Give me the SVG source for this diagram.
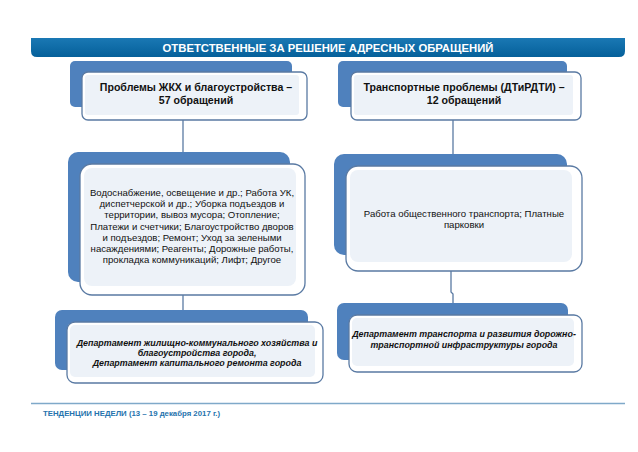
<svg xmlns="http://www.w3.org/2000/svg" width="638" height="452" viewBox="0 0 638 452">
<defs>
<linearGradient id="tg" x1="0" y1="0" x2="0" y2="1">
<stop offset="0" stop-color="#1a78b4"/><stop offset="1" stop-color="#05609a"/>
</linearGradient>
<style>
.back{fill:#4f81bd;}
.front{fill:#ffffff;stroke:#5a7aa3;stroke-width:1.3;}
.inner{fill:#edf2f8;}
.conn{stroke:#5a7aa3;stroke-width:1.3;fill:none;}
.t{font-family:"Liberation Sans",Arial,sans-serif;fill:#111;text-anchor:middle;}
.hd{font-size:10.6px;font-weight:bold;}
.md{font-size:9.6px;}
.bt{font-size:8.9px;font-weight:bold;font-style:italic;}
</style>
</defs>
<rect width="638" height="452" fill="#ffffff"/>
<g id="title">
<path d="M31,38 H625 V51 Q625,57 619,57 H37 Q31,57 31,51 Z" fill="url(#tg)"/>
<text x="328" y="52" class="t" style="font-size:11.3px;font-weight:bold;fill:#fff">ОТВЕТСТВЕННЫЕ ЗА РЕШЕНИЕ АДРЕСНЫХ ОБРАЩЕНИЙ</text>
</g>
<g id="connectors">
<path class="conn" d="M183,120 V164"/>
<path class="conn" d="M183,295 V322"/>
<path class="conn" d="M453,120 V166"/>
<path class="conn" d="M451,271 V292 L453,294 V315"/>
</g>
<g id="n1">
<rect class="back" x="70" y="61" width="222" height="46" rx="5"/>
<rect class="front" x="82" y="72" width="225" height="48" rx="6"/>
<rect class="inner" x="85" y="75" width="214" height="40" rx="3"/>
<text class="t hd" x="196" y="91">Проблемы ЖКХ и благоустройства –</text>
<text class="t hd" x="196" y="104">57 обращений</text>
</g>
<g id="n2">
<rect class="back" x="338" y="61" width="229" height="46" rx="5"/>
<rect class="front" x="351" y="72" width="230" height="48" rx="6"/>
<rect class="inner" x="354" y="75" width="219" height="40" rx="3"/>
<text class="t hd" x="464" y="91">Транспортные проблемы (ДТиРДТИ) –</text>
<text class="t hd" x="464" y="104">12 обращений</text>
</g>
<g id="n3">
<rect class="back" x="68" y="152" width="222" height="130" rx="10"/>
<rect class="front" x="80" y="164" width="225" height="131" rx="12"/>
<rect class="inner" x="84" y="168" width="212" height="118" rx="8"/>
<text class="t md" x="192" y="196">Водоснабжение, освещение и др.;  Работа УК,</text>
<text class="t md" x="192" y="207.2">диспетчерской и др.; Уборка подъездов и</text>
<text class="t md" x="192" y="218.4">территории, вывоз мусора; Отопление;</text>
<text class="t md" x="192" y="229.6">Платежи и счетчики; Благоустройство дворов</text>
<text class="t md" x="192" y="240.8">и подъездов;  Ремонт; Уход за зелеными</text>
<text class="t md" x="192" y="252">насаждениями; Реагенты; Дорожные работы,</text>
<text class="t md" x="192" y="263.2">прокладка коммуникаций; Лифт; Другое</text>
</g>
<g id="n4">
<rect class="back" x="334" y="154" width="233" height="101" rx="10"/>
<rect class="front" x="346" y="166" width="236" height="105" rx="12"/>
<rect class="inner" x="350" y="170" width="222" height="92" rx="8"/>
<text class="t md" x="464" y="217">Работа общественного транспорта; Платные</text>
<text class="t md" x="464" y="228">парковки</text>
</g>
<g id="n5">
<rect class="back" x="55" y="310" width="253" height="60" rx="7"/>
<rect class="front" x="67" y="322" width="256" height="61" rx="8"/>
<rect class="inner" x="70" y="325" width="245" height="52" rx="5"/>
<text class="t bt" x="197" y="346">Департамент  жилищно-коммунального хозяйства  и</text>
<text class="t bt" x="197" y="356">благоустройства города,</text>
<text class="t bt" x="197" y="366">Департамент капитального ремонта города</text>
</g>
<g id="n6">
<rect class="back" x="337" y="303" width="231" height="57" rx="7"/>
<rect class="front" x="349" y="315" width="233" height="57" rx="8"/>
<rect class="inner" x="352" y="318" width="222" height="48" rx="5"/>
<text class="t bt" x="464" y="337">Департамент транспорта и развития дорожно-</text>
<text class="t bt" x="464" y="348">транспортной инфраструктуры города</text>
</g>
<g id="footer">
<line x1="31" y1="403.5" x2="625" y2="403.5" stroke="#7fa9c9" stroke-width="1.6"/>
<text x="43" y="416" style="font-family:'Liberation Sans',Arial,sans-serif;font-size:7.8px;font-weight:bold;fill:#2573ad">ТЕНДЕНЦИИ НЕДЕЛИ (13 – 19 декабря 2017 г.)</text>
</g>
</svg>
